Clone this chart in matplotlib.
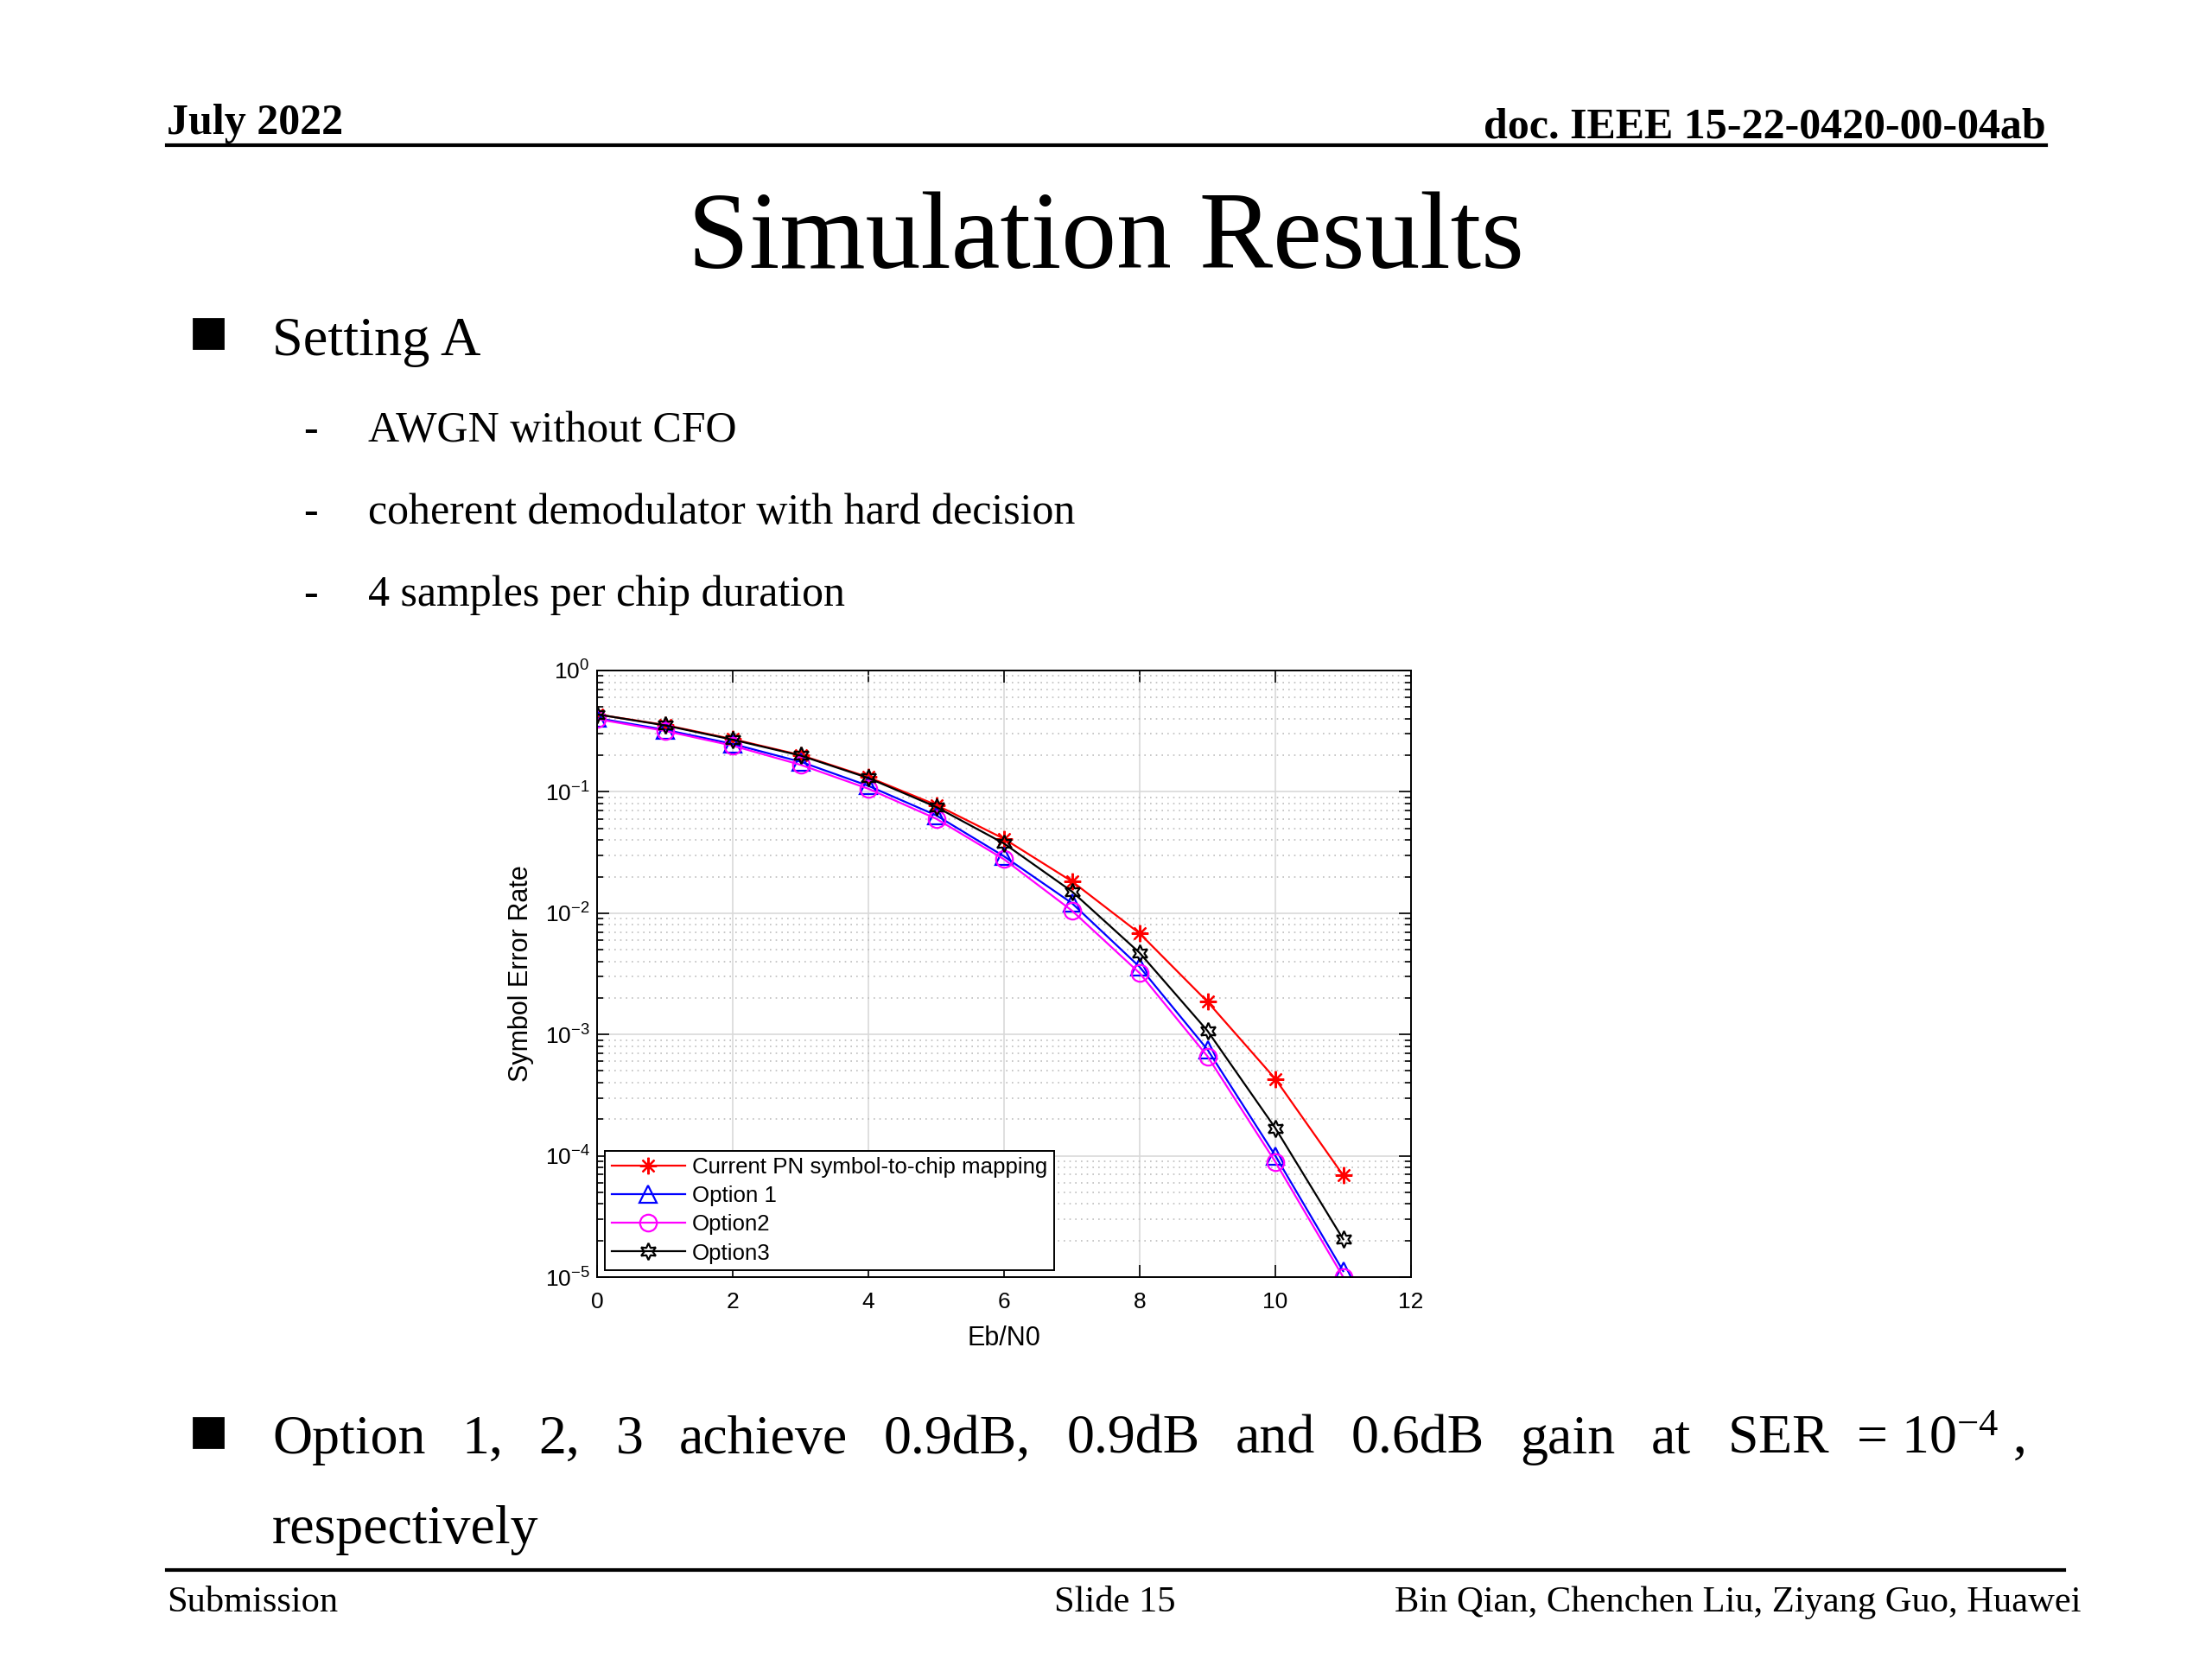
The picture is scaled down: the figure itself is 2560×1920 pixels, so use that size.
import numpy as np
import matplotlib
matplotlib.use('Agg')
from matplotlib import pyplot as plt
from matplotlib.patches import Rectangle
from matplotlib.lines import Line2D
from matplotlib.ticker import FixedLocator, FuncFormatter, LogLocator, NullFormatter

# values
ebn0 = [0, 1, 2, 3, 4, 5, 6, 7, 8, 9, 10, 11]
ser_current = [0.435, 0.356, 0.272, 0.201, 0.132, 0.078, 0.041, 0.0183, 0.0068, 0.00186, 4.3e-4, 6.9e-5]
ser_opt1 = [0.405, 0.325, 0.248, 0.177, 0.112, 0.064, 0.0294, 0.0121, 0.0036, 7.5e-4, 1.0e-4, 1.12e-5]
ser_opt2 = [0.398, 0.318, 0.240, 0.167, 0.106, 0.060, 0.0278, 0.0105, 0.0032, 6.6e-4, 8.9e-5, 1.0e-5]
ser_opt3 = [0.435, 0.353, 0.269, 0.199, 0.130, 0.075, 0.0375, 0.0151, 0.0047, 0.00107, 1.69e-4, 2.05e-5]
labels = ['Current PN symbol-to-chip mapping', 'Option 1', 'Option2', 'Option3']

sub_items = ['AWGN without CFO', 'coherent demodulator with hard decision', '4 samples per chip duration']
summary_words = ['Option', '1,', '2,', '3', 'achieve', '0.9dB,', '0.9dB', 'and', '0.6dB',
                 'gain', 'at', r'SER  = $\mathregular{10^{-4}}$ ,']

plt.rcParams['font.family'] = ['Liberation Sans', 'DejaVu Sans']
SERIF = ['Liberation Serif', 'DejaVu Serif']

W, H = 2560, 1920
fig = plt.figure(figsize=(12.8, 9.6), dpi=200)


def put(x, y, s, **kw):
    kw.setdefault('family', SERIF)
    kw.setdefault('va', 'baseline')
    return fig.text(x / W, 1 - y / H, s, **kw)


def hline(x0, x1, y, lw=1.5):
    fig.add_artist(Line2D([x0 / W, x1 / W], [1 - y / H, 1 - y / H], color='black', lw=lw))


def bullet(x, y, size):
    fig.add_artist(Rectangle((x / W, 1 - (y + size) / H), size / W, size / H,
                             color='black', transform=fig.transFigure))


# header / footer
put(193, 155, 'July 2022', fontsize=18, weight='bold')
put(2368, 160, 'doc. IEEE 15-22-0420-00-04ab', fontsize=18, weight='bold', ha='right')
hline(193, 2368, 168)
put(1280, 310, 'Simulation Results', fontsize=46, ha='center')

bullet(224, 369, 34)
put(315, 411, 'Setting A', fontsize=23.2)
for i, s in enumerate(sub_items):
    y = 511 + i * 95
    put(351, y, '-', fontsize=18)
    put(426, y, s, fontsize=18)

# justified summary line
bullet(224, 1641, 34)
renderer = fig.canvas.get_renderer()
texts = [put(0, 1682, w, fontsize=23) for w in summary_words]
widths = [t.get_window_extent(renderer).width for t in texts]
gap = (2343 - 315 - sum(widths)) / (len(widths) - 1)
xpos = 315
for t, w in zip(texts, widths):
    t.set_x(xpos / W)
    xpos += w + gap
put(315, 1786, 'respectively', fontsize=23)

hline(193, 2389, 1817)
put(193, 1865, 'Submission', fontsize=15.3)
put(1290, 1865, 'Slide 15', fontsize=15.3, ha='center')
put(2409, 1865, 'Bin Qian, Chenchen Liu, Ziyang Guo, Huawei', fontsize=15.3, ha='right')

# the chart
ax = fig.add_axes([691 / W, 1 - 1478 / H, 942 / W, 702 / H])
kw = dict(ms=7, lw=0.8, mew=0.8, mfc='none')
ax.semilogy(ebn0, ser_current, color='red', marker=(8, 2, 0), label=labels[0], **kw)
ax.semilogy(ebn0, ser_opt1, color='blue', marker='^', label=labels[1], **kw)
ax.semilogy(ebn0, ser_opt2, color='magenta', marker='o', label=labels[2], **kw)
ax.semilogy(ebn0, ser_opt3, color='black', marker=(6, 1, 0), label=labels[3], **kw)

ax.set_xlim(0, 12)
ax.set_ylim(1e-5, 1)
ax.set_xticks(range(0, 13, 2))
ax.yaxis.set_major_locator(FixedLocator([1e-5, 1e-4, 1e-3, 1e-2, 1e-1, 1]))
ax.yaxis.set_minor_locator(LogLocator(base=10, subs=np.arange(2, 10), numticks=20))
ax.yaxis.set_minor_formatter(NullFormatter())
ax.yaxis.set_major_formatter(FuncFormatter(lambda v, p: r'$\mathregular{10^{%d}}$' % round(np.log10(v))))
ax.tick_params(which='both', direction='in', top=True, right=True, labelsize=9.5, width=0.6)
ax.tick_params(which='major', length=5)
ax.tick_params(which='minor', length=2.5)
ax.tick_params(axis='x', pad=6)
ax.tick_params(axis='y', pad=3)
ax.grid(which='major', color='#d9d9d9', lw=0.6, ls='-')
ax.grid(which='minor', axis='y', color='#bdbdbd', lw=0.6, ls=(0, (1, 3)))
ax.set_axisbelow(True)
for sp in ax.spines.values():
    sp.set_linewidth(0.7)

ax.set_xlabel('Eb/N0', fontsize=11)
ax.set_ylabel('Symbol Error Rate', fontsize=11)
ax.xaxis.set_label_coords(0.5, -0.08)
ax.yaxis.set_label_coords(-0.078, 0.5)

leg = ax.legend(loc='lower left', bbox_to_anchor=(0.0095, 0.011), borderaxespad=0, fontsize=9.3,
                fancybox=False, edgecolor='black', framealpha=1, handlelength=3.3,
                labelspacing=0.35, borderpad=0.3, handletextpad=0.3)
leg.get_frame().set_linewidth(0.7)

fig.savefig('out.png', dpi=200)
